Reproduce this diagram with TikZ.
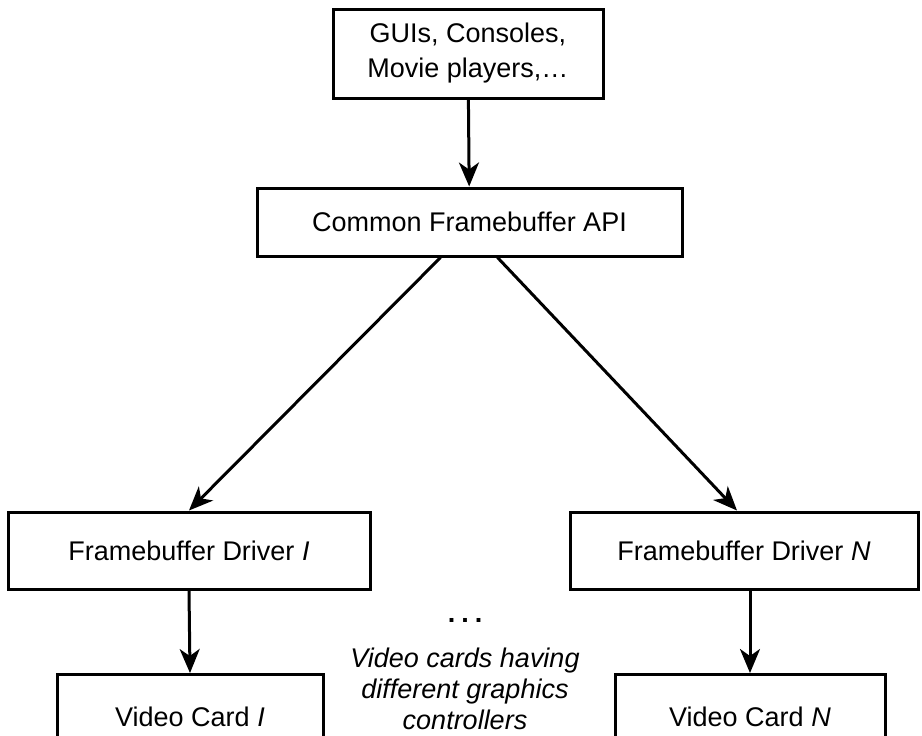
\documentclass[tikz,border=0pt]{standalone}
\usepackage{fontspec}
\setmainfont{Liberation Sans}
\usetikzlibrary{positioning,arrows.meta}
\tikzset{
  box/.style={draw=black, fill=white, line width=1.5pt, align=center,
    inner sep=0pt, font=\fontsize{13.5}{17.5}\selectfont, text=black},
  flow/.style={-{Stealth[length=12pt,width=10pt,inset=3.5pt]}, line width=1.5pt, draw=black},
  note/.style={align=center, font=\fontsize{13.5}{15.5}\selectfont\itshape, inner sep=0pt},
}
\begin{document}
\begin{tikzpicture}[x=0.5pt,y=-0.5pt]
  \useasboundingbox (0,0) rectangle (922,735);
  % top layer
  \node[box, minimum width=135pt, minimum height=44.5pt] (apps) at (468,53.5)
    {GUIs, Consoles,\\Movie players,\dots};
  \node[box, minimum width=212.5pt, minimum height=34pt] (api) at (469.5,222)
    {Common Framebuffer API};
  % drivers
  \node[box, minimum width=181pt, minimum height=38.5pt] (drvI) at (189,550.5)
    {Framebuffer Driver \textit{I}};
  \node[box, minimum width=174pt, minimum height=38.5pt] (drvN) at (744,550.5)
    {Framebuffer Driver \textit{N}};
  % cards (run off the bottom edge)
  \node[box, minimum width=133pt, minimum height=50pt, anchor=north] (cardI) at (190,673)
    {\raisebox{8pt}{Video Card \textit{I}}};
  \node[box, minimum width=135pt, minimum height=50pt, anchor=north] (cardN) at (750,673)
    {\raisebox{8pt}{Video Card \textit{N}}};
  \node[note, font=\fontsize{13.5}{15.5}\selectfont\bfseries] (dots) at (465,620)
    {.\hspace{3pt}.\hspace{3pt}.};
  \node[note] (others) at (465,689)
    {Video cards having\\different graphics\\controllers};
  % connectors
  \draw[flow] (apps) -- (api);
  \draw[flow] ([xshift=-14.5pt]api.south) -- (drvI.north);
  \draw[flow] ([xshift=14pt]api.south) -- ([xshift=-3.5pt]drvN.north);
  \draw[flow] (drvI.south) -- (cardI.north);
  \draw[flow] ([xshift=3pt]drvN.south) -- (cardN.north);
\end{tikzpicture}
\end{document}
